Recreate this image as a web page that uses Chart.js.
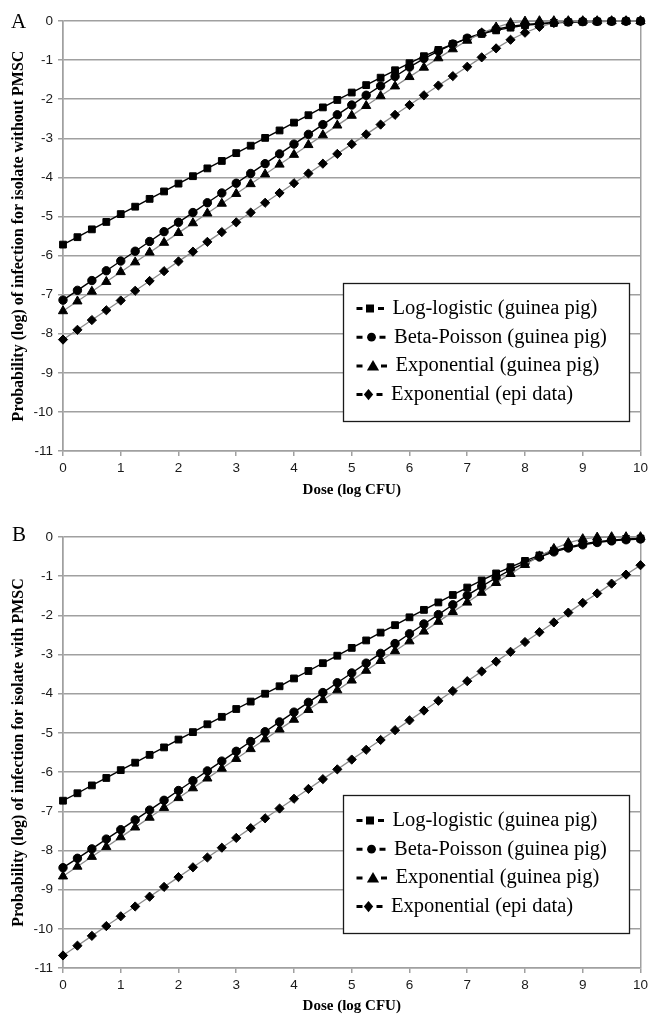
<!DOCTYPE html>
<html>
<head>
<meta charset="utf-8">
<script src="https://cdn.jsdelivr.net/npm/chart.js@4.4.1/dist/chart.umd.min.js"></script>
<style>
html,body{margin:0;padding:0;background:#fff;}
body{width:652px;height:1015px;position:relative;overflow:hidden;}
canvas{position:absolute;left:0;}
#cA{top:0;}
#cB{top:505px;}
.letter{position:absolute;font-family:"Liberation Serif","Times New Roman",serif;font-size:21px;line-height:21px;color:#000;}
</style>
</head>
<body>
<canvas id="cA" width="652" height="505"></canvas>
<canvas id="cB" width="652" height="510"></canvas>
<div class="letter" style="left:11px;top:11px;">A</div>
<div class="letter" style="left:12px;top:524px;">B</div>
<script>
// ---------- data ----------
const doses = [0,0.25,0.5,0.75,1,1.25,1.5,1.75,2,2.25,2.5,2.75,3,3.25,3.5,3.75,4,4.25,4.5,4.75,5,5.25,5.5,5.75,6,6.25,6.5,6.75,7,7.25,7.5,7.75,8,8.25,8.5,8.75,9,9.25,9.5,9.75,10];
const xTickValues = [0,1,2,3,4,5,6,7,8,9,10];
const yTickValues = [0,-1,-2,-3,-4,-5,-6,-7,-8,-9,-10,-11];
const seriesNames = ['Log-logistic (guinea pig)','Beta-Poisson (guinea pig)','Exponential (guinea pig)','Exponential (epi data)'];
const xTitle = 'Dose (log CFU)';
const yTitleA = 'Probability (log) of infection for isolate without PMSC';
const yTitleB = 'Probability (log) of infection for isolate with PMSC';

// Panel A (isolate without PMSC)
const A_logLogistic = [-5.72,-5.53,-5.33,-5.14,-4.94,-4.75,-4.55,-4.36,-4.16,-3.97,-3.77,-3.58,-3.38,-3.19,-2.99,-2.80,-2.60,-2.41,-2.21,-2.02,-1.83,-1.64,-1.45,-1.26,-1.08,-0.90,-0.74,-0.59,-0.45,-0.33,-0.24,-0.17,-0.11,-0.08,-0.05,-0.03,-0.02,-0.014,-0.009,-0.006,-0.004];
const A_betaPoisson = [-7.14,-6.89,-6.64,-6.39,-6.14,-5.89,-5.64,-5.39,-5.15,-4.90,-4.65,-4.40,-4.15,-3.90,-3.65,-3.40,-3.15,-2.90,-2.65,-2.40,-2.15,-1.90,-1.66,-1.42,-1.18,-0.96,-0.77,-0.59,-0.44,-0.31,-0.21,-0.14,-0.09,-0.06,-0.04,-0.025,-0.016,-0.01,-0.007,-0.004,-0.003];
const A_expGuineaPig = [-7.42,-7.17,-6.92,-6.67,-6.42,-6.17,-5.92,-5.67,-5.42,-5.17,-4.92,-4.67,-4.42,-4.17,-3.92,-3.67,-3.42,-3.17,-2.92,-2.67,-2.42,-2.17,-1.92,-1.67,-1.43,-1.19,-0.95,-0.72,-0.50,-0.31,-0.16,-0.05,-0.01,0,0,0,0,0,0,0,0];
const A_expEpi = [-8.15,-7.90,-7.65,-7.40,-7.15,-6.90,-6.65,-6.40,-6.15,-5.90,-5.65,-5.40,-5.15,-4.90,-4.65,-4.40,-4.15,-3.90,-3.65,-3.40,-3.15,-2.90,-2.65,-2.40,-2.15,-1.90,-1.65,-1.41,-1.17,-0.93,-0.70,-0.48,-0.30,-0.15,-0.05,-0.01,0,0,0,0,0];

// Panel B (isolate with PMSC)
const B_logLogistic = [-6.73,-6.54,-6.34,-6.15,-5.95,-5.76,-5.56,-5.37,-5.17,-4.98,-4.78,-4.59,-4.39,-4.20,-4.00,-3.81,-3.61,-3.42,-3.22,-3.03,-2.83,-2.64,-2.44,-2.25,-2.05,-1.86,-1.67,-1.48,-1.29,-1.11,-0.93,-0.77,-0.61,-0.47,-0.35,-0.26,-0.18,-0.12,-0.08,-0.05,-0.04];
const B_betaPoisson = [-8.44,-8.20,-7.96,-7.71,-7.47,-7.22,-6.97,-6.72,-6.47,-6.22,-5.97,-5.72,-5.47,-5.22,-4.97,-4.72,-4.47,-4.22,-3.97,-3.72,-3.47,-3.22,-2.97,-2.72,-2.47,-2.22,-1.98,-1.73,-1.49,-1.26,-1.04,-0.84,-0.66,-0.51,-0.38,-0.28,-0.20,-0.14,-0.10,-0.07,-0.05];
const B_expGuineaPig = [-8.66,-8.41,-8.16,-7.91,-7.66,-7.41,-7.16,-6.91,-6.66,-6.41,-6.16,-5.91,-5.66,-5.41,-5.16,-4.91,-4.66,-4.41,-4.16,-3.91,-3.66,-3.41,-3.16,-2.91,-2.66,-2.41,-2.16,-1.91,-1.67,-1.42,-1.17,-0.94,-0.71,-0.49,-0.30,-0.15,-0.05,-0.01,0,0,0];
const B_expEpi = [-10.68,-10.43,-10.18,-9.93,-9.68,-9.43,-9.18,-8.93,-8.68,-8.43,-8.18,-7.93,-7.68,-7.43,-7.18,-6.93,-6.68,-6.43,-6.18,-5.93,-5.68,-5.43,-5.18,-4.93,-4.68,-4.43,-4.18,-3.93,-3.68,-3.43,-3.18,-2.93,-2.68,-2.43,-2.18,-1.93,-1.68,-1.44,-1.19,-0.96,-0.72];

// ---------- styles ----------
const seriesStyles = [
  {pointStyle:'rect',     radius:4.8, line:'#000000', lw:1.4, legendX:26.5, legendR:4.0},
  {pointStyle:'circle',   radius:4.2, line:'#000000', lw:1.4, legendX:28,   legendR:4.4},
  {pointStyle:'triangle', radius:5.3, line:'#8c8c8c', lw:1.3, legendX:29.5, legendR:5.8},
  {pointStyle:'rectRot',  radius:4.6, line:'#8c8c8c', lw:1.3, legendX:25,   legendR:5.2}
];
const GRID = '#a0a0a0';

function buildDatasets(seriesList){
  return seriesList.map((vals,k)=>{
    const s = seriesStyles[k];
    return {
      label: seriesNames[k],
      data: doses.map((d,i)=>({x:d, y:vals[i]})),
      borderColor: s.line, borderWidth: s.lw,
      pointStyle: s.pointStyle, pointRadius: s.radius, pointHoverRadius: s.radius,
      pointBackgroundColor:'#000', pointBorderColor:'#000', pointBorderWidth:1,
      tension:0, fill:false, clip:false, order: 4-k
    };
  });
}

function drawLegendMarker(ctx, style, x, y, r){
  ctx.beginPath();
  if(style==='rect'){ ctx.rect(x-r,y-r,2*r,2*r); }
  else if(style==='circle'){ ctx.arc(x,y,r,0,Math.PI*2); }
  else if(style==='triangle'){ ctx.moveTo(x,y-r); ctx.lineTo(x+r*1.05,y+r*0.8); ctx.lineTo(x-r*1.05,y+r*0.8); ctx.closePath(); }
  else { ctx.moveTo(x,y-r*1.1); ctx.lineTo(x+r*0.9,y); ctx.lineTo(x,y+r*1.1); ctx.lineTo(x-r*0.9,y); ctx.closePath(); }
  ctx.fillStyle='#000'; ctx.fill();
}

const boxLegend = {
  id:'boxLegend',
  afterDraw(chart, args, o){
    const {ctx, chartArea:ca} = chart;
    const x0 = Math.round(ca.left + o.dx)+0.5, y0 = Math.round(ca.top + o.dy)+0.5;
    ctx.save();
    ctx.fillStyle='#fff'; ctx.fillRect(x0,y0,o.w,o.h);
    ctx.strokeStyle='#1a1a1a'; ctx.lineWidth=1.3; ctx.strokeRect(x0,y0,o.w,o.h);
    ctx.font='20.5px "Liberation Serif","Times New Roman",serif';
    ctx.textBaseline='alphabetic'; ctx.textAlign='left';
    chart.data.datasets.forEach((ds,i)=>{
      const s = seriesStyles[i];
      const base = y0 + 30.5 + i*28.7;
      const my = base - 5.5;
      const mc = x0 + s.legendX;
      ctx.strokeStyle='#000'; ctx.lineWidth=3;
      ctx.beginPath();
      ctx.moveTo(x0+13,my); ctx.lineTo(x0+19,my);
      ctx.moveTo(mc+8,my); ctx.lineTo(mc+14,my);
      ctx.stroke();
      drawLegendMarker(ctx, s.pointStyle, mc, my, s.legendR);
      ctx.fillStyle='#000';
      ctx.fillText(ds.label, mc+22.5, base);
    });
    ctx.restore();
  }
};

function makeChart(id, seriesList, yTitle, pad, xHeight, xTitlePadBottom, legendOpts){
  return new Chart(document.getElementById(id), {
    type:'line',
    data:{ datasets: buildDatasets(seriesList) },
    plugins:[boxLegend],
    options:{
      responsive:false, animation:false,
      layout:{ padding: pad },
      plugins:{ legend:{display:false}, tooltip:{enabled:false}, boxLegend: legendOpts },
      scales:{
        x:{
          type:'linear', min:0, max:10,
          afterBuildTicks: s => { s.ticks = xTickValues.map(v=>({value:v})); },
          afterFit: s => { s.height = xHeight; },
          ticks:{ callback: v => String(v), autoSkip:false, maxRotation:0, padding:4,
                  color:'#1a1a1a', font:{family:'"Liberation Sans", Arial, sans-serif', size:13.5} },
          grid:{ color: c => (c.tick && (c.tick.value===0 || c.tick.value===10)) ? GRID : 'rgba(0,0,0,0)',
                 tickColor: GRID, tickLength:5, lineWidth:1.5, drawTicks:true },
          border:{ display:true, color:GRID, width:1.5 },
          title:{ display:true, text:xTitle, color:'#000',
                  font:{family:'"Liberation Serif","Times New Roman",serif', size:15, weight:'bold'},
                  padding:{top:0, bottom:xTitlePadBottom} }
        },
        y:{
          type:'linear', min:-11, max:0,
          afterBuildTicks: s => { s.ticks = yTickValues.map(v=>({value:v})); },
          afterFit: s => { s.width = 63; },
          ticks:{ callback: v => String(v), autoSkip:false, padding:5,
                  color:'#1a1a1a', font:{family:'"Liberation Sans", Arial, sans-serif', size:13.5} },
          grid:{ color:GRID, tickColor:GRID, tickLength:5, lineWidth:1.5, drawTicks:true },
          border:{ display:true, color:GRID, width:1.5 },
          title:{ display:true, text:yTitle, color:'#000',
                  font:{family:'"Liberation Serif","Times New Roman",serif', size:16, weight:'bold'},
                  padding:{top:9, bottom:0} }
        }
      }
    }
  });
}

makeChart('cA', [A_logLogistic, A_betaPoisson, A_expGuineaPig, A_expEpi], yTitleA,
  {top:21, right:9, bottom:0, left:0}, 54, 6, {dx:280, dy:262, w:286, h:138});
makeChart('cB', [B_logLogistic, B_betaPoisson, B_expGuineaPig, B_expEpi], yTitleB,
  {top:32, right:9, bottom:0, left:0}, 47, 0, {dx:280, dy:258, w:286, h:138});
</script>
</body>
</html>
